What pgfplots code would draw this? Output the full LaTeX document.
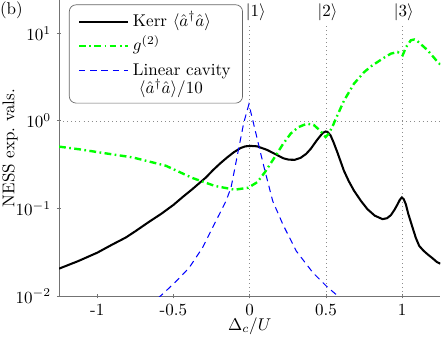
\documentclass[border=0pt]{standalone}
\usepackage{pgfplots}
\pgfplotsset{compat=1.18}
\usetikzlibrary{calc}
\begin{document}
\begin{tikzpicture}
\begin{axis}[
  scale only axis, width=224pt, height=174pt,
  ymode=log, xmin=-1.25, xmax=1.25, ymin=0.01, ymax=24,
  axis lines=left, axis line style={-, draw=black!55, line width=0.5pt},
  tick style={draw=black!55, line width=0.5pt}, major tick length=2.5pt,
  ytick={0.01,0.1,1,10}, yminorticks=false,
  xtick={-1,-0.5,0,0.5,1}, xticklabels={-1,-0.5,0,0.5,1},
  xlabel={$\Delta_c/U$}, ylabel={NESS exp.\ vals.},
  xlabel style={yshift=6pt}, ylabel style={yshift=-8pt},
  legend cell align=left,
  legend image code/.code={\draw[#1] (0pt,2.6pt) -- (29pt,2.6pt);},
  legend style={at={(0.026,0.985)}, anchor=north west, draw=black!60,
    rounded corners=4pt, fill=white, inner xsep=5pt, inner ysep=2pt,
    row sep=0pt, cells={anchor=base west}},
]
\coordinate (nw) at (rel axis cs:0,1);
\coordinate (sw) at (rel axis cs:0,0);
\coordinate (ne) at (rel axis cs:1,1);

% reference lines at the Fock resonances and at unity
\addplot[black!45, dotted, forget plot] coordinates {(0,0.01) (0,12.4)};
\addplot[black!45, dotted, forget plot] coordinates {(0.5,0.01) (0.5,12.4)};
\addplot[black!45, dotted, forget plot] coordinates {(1,0.01) (1,12.4)};
\addplot[black!45, dotted, forget plot] coordinates {(-1.25,1) (1.25,1)};

% Kerr cavity photon number
\addplot[black, line width=1.2pt] coordinates {
(-1.25,0.0206) (-1.125,0.0251) (-1.0,0.0313) (-0.9,0.0389) (-0.813,0.0466)
(-0.75,0.055) (-0.66,0.0705) (-0.58,0.087) (-0.5,0.110) (-0.44,0.135)
(-0.375,0.167) (-0.287,0.226) (-0.24,0.275) (-0.193,0.328) (-0.15,0.38)
(-0.105,0.438) (-0.06,0.49) (-0.028,0.513) (0.01,0.518) (0.049,0.513)
(0.114,0.467) (0.18,0.408) (0.22,0.375) (0.257,0.361) (0.295,0.36) (0.333,0.378)
(0.37,0.42) (0.40,0.479) (0.44,0.60) (0.465,0.681) (0.48,0.73) (0.498,0.757)
(0.51,0.75) (0.531,0.681) (0.55,0.57) (0.575,0.438) (0.618,0.270)
(0.65,0.205) (0.684,0.160) (0.73,0.122) (0.772,0.0984) (0.82,0.083)
(0.871,0.0757) (0.9,0.0775) (0.926,0.084) (0.95,0.097) (0.970,0.112)
(0.985,0.126) (0.998,0.134) (1.01,0.128) (1.024,0.112) (1.04,0.087)
(1.068,0.0607) (1.09,0.046) (1.112,0.0374) (1.14,0.033) (1.167,0.0300)
(1.2,0.027) (1.228,0.0245) (1.25,0.0235)
};
\addlegendentry{\rule[-5pt]{0pt}{8.6pt}Kerr $\langle\hat{a}^\dagger\hat{a}\rangle$}

% second-order correlation
\addplot[green, line width=1.4pt, dash pattern=on 4pt off 2pt on 1pt off 2pt] coordinates {
(-1.25,0.509) (-1.1,0.47) (-0.989,0.438) (-0.769,0.384) (-0.55,0.308)
(-0.375,0.223) (-0.228,0.181) (-0.097,0.164) (-0.009,0.173) (0.05,0.2)
(0.1,0.26) (0.17,0.40) (0.22,0.55) (0.27,0.72) (0.32,0.85) (0.375,0.93)
(0.42,0.90) (0.46,0.78) (0.498,0.655) (0.52,0.72) (0.55,0.92)
(0.564,1.05) (0.619,1.71) (0.684,2.66) (0.75,3.6) (0.8,4.25) (0.838,4.70)
(0.88,5.25) (0.926,5.86) (0.97,6.12) (1.003,5.61) (1.026,6.98) (1.057,8.33)
(1.08,8.5) (1.101,8.12) (1.167,6.40) (1.233,4.70) (1.25,4.4)
};
\addlegendentry{\rule[-5.5pt]{0pt}{11pt}$g^{(2)}$}

% empty (linear) cavity, scaled down by ten
\addplot[blue, line width=0.6pt, dash pattern=on 3.8pt off 2.8pt] coordinates {
(-0.6,0.0095) (-0.539,0.0119) (-0.47,0.0155) (-0.397,0.0211) (-0.309,0.0357)
(-0.221,0.0723) (-0.155,0.122) (-0.122,0.174) (-0.079,0.42) (-0.039,0.95)
(-0.005,1.55) (0.031,0.85) (0.065,0.48) (0.097,0.283) (0.151,0.122)
(0.217,0.0663) (0.305,0.0328) (0.415,0.0185) (0.503,0.0130) (0.568,0.0104)
(0.62,0.0088)
};
\addlegendentry{\rule[-2pt]{0pt}{11pt}\rlap{\raisebox{-10.6pt}[0pt][0pt]{\hspace*{3.5pt}$\langle\hat{a}^\dagger\hat{a}\rangle/10$}}Linear cavity}
\addlegendimage{empty legend}
\addlegendentry{\rule{0pt}{5.4pt}}

\node at (axis cs:0.04,17.5) {$|1\rangle$};
\node at (axis cs:0.51,17.5) {$|2\rangle$};
\node at (axis cs:1.01,17.5) {$|3\rangle$};
\end{axis}
\node at ($(nw)+(-28pt,-6pt)$) {(b)};
\pgfresetboundingbox
\path[use as bounding box] ($(sw)+(-34.7pt,-24.1pt)$) rectangle ($(ne)+(1pt,0pt)$);
\end{tikzpicture}
\end{document}
